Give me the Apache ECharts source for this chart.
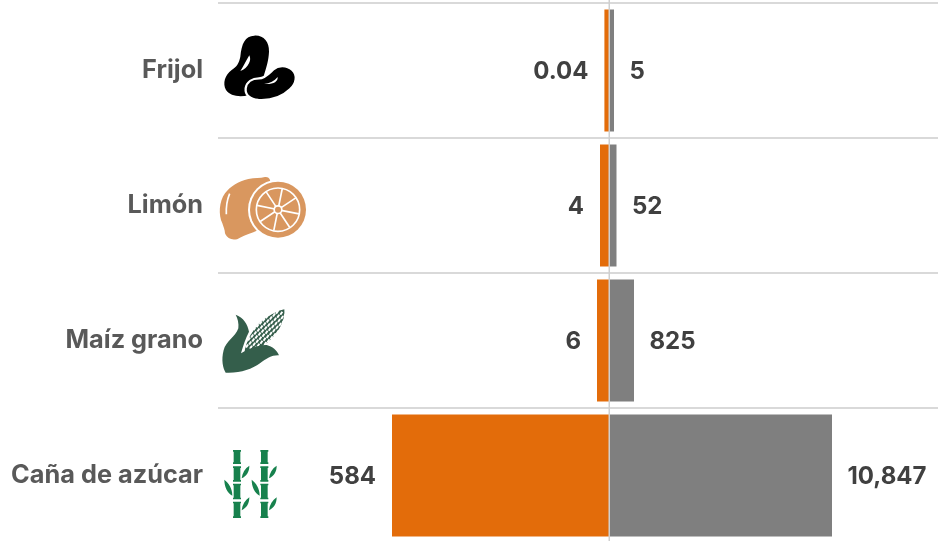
<!DOCTYPE html>
<html><head><meta charset="utf-8">
<style>html,body{margin:0;padding:0;background:#fff}#c{width:942px;height:541px}</style>
<script src="https://cdn.jsdelivr.net/npm/echarts@6/dist/echarts.min.js"></script>
</head><body><div id="c"></div>
<script>
const categories = ['Frijol', 'Limón', 'Maíz grano', 'Caña de azúcar'];
const leftLabels = ['0.04', '4', '6', '584'];
const rightLabels = ['5', '52', '825', '10,847'];
// Bar lengths as drawn in the picture (the original scale is not proportional to the printed labels)
const leftBarLengths = [4.6, 9, 12, 217];
const rightBarLengths = [5, 7.5, 25, 223];
const iconPosition = -349;

const FONT = 'Inter';
const LEAF = '#345E4B', CANE = '#17814D', LEMON = '#D9975F';

function canePaths(dx) {
  const segs = [[30,72],[79,125],[131,178],[185,234]];
  let d = '';
  segs.forEach(s => {
    d += `M${dx+54} ${s[0]}H${dx+78}V${s[0]+5}H${dx+76}V${s[1]-5}H${dx+78}V${s[1]}H${dx+54}V${s[1]-5}H${dx+56}V${s[0]+5}H${dx+54}Z`;
  });
  d += `M${dx+80} 115C${dx+82} 98 ${dx+90} 85 ${dx+103} 77C${dx+103} 95 ${dx+95} 108 ${dx+80} 115Z`;
  d += `M${dx+52} 167C${dx+36} 158 ${dx+28} 140 ${dx+28} 119C${dx+42} 130 ${dx+52} 145 ${dx+52} 167Z`;
  d += `M${dx+80} 211C${dx+82} 194 ${dx+90} 181 ${dx+103} 172C${dx+103} 190 ${dx+95} 204 ${dx+80} 211Z`;
  return d;
}
function cornDots() {
  let d = '';
  const ux = 0.72, uy = -0.69, vx = 0.69, vy = 0.72;
  const cx = 148, cy = 92;
  for (let u = -70; u <= 78; u += 13) {
    for (let v = -36; v <= 36; v += 11) {
      if ((u*u)/(80*80) + (v*v)/(34*34) > 1) continue;
      const off = (Math.round(v/11) % 2 === 0) ? 0 : 6;
      const x = cx + (u+off)*ux + v*vx, y = cy + (u+off)*uy + v*vy;
      d += `M${x-5} ${y+3}L${x+1} ${y-6}L${x+6} ${y-3}L${x} ${y+6}Z`;
    }
  }
  return d;
}
function spokes() {
  let d = '';
  for (let i = 0; i < 8; i++) {
    const a = i * Math.PI / 4 + 0.2;
    const c = Math.cos(a), s = Math.sin(a);
    d += `M${189+c*10} ${134+s*10}L${189+c*64} ${134+s*64}`;
  }
  return d;
}
const ICONS = [
  { o: [135, 151.5], parts: [
    { d: 'M118 47C145 45 163 65 162 95C161 120 155 140 145 172L100 226C72 232 45 228 33 210C22 190 30 165 50 150C65 140 72 130 76 110C80 70 90 48 118 47Z', fill: '#000' },
    { d: 'M92 205C95 185 112 175 132 175C150 175 162 160 175 148C190 135 215 135 232 150C248 165 245 190 225 208C200 232 165 242 130 240C105 238 90 225 92 205Z', fill: '#000', stroke: '#fff', lineWidth: 7 },
    { d: 'M103 106C107 115 106 122 102 130C97 140 88 150 76 153C84 142 92 125 103 106Z', fill: '#fff' },
    { d: 'M188 171C189 185 175 194 147 192C165 190 178 183 188 171Z', fill: '#fff' }
  ]},
  { o: [135, 121.5], parts: [
    { d: 'M22 175C10 150 12 110 30 85C45 65 70 48 100 42C120 38 135 40 150 36C162 34 168 45 165 55L190 130L130 195C110 205 90 210 75 218C60 228 38 225 30 205C30 195 25 185 22 175Z', fill: LEMON },
    { circle: [189, 134, 90], fill: '#fff' },
    { circle: [189, 134, 84], fill: LEMON },
    { circle: [189, 134, 65], stroke: '#fff', lineWidth: 5, fill: 'none' },
    { d: spokes(), stroke: '#fff', lineWidth: 5, fill: 'none' },
    { circle: [189, 134, 14], fill: '#fff' },
    { circle: [189, 134, 9], fill: LEMON },
    { d: 'M44 86C36 105 33 125 34 148', stroke: '#fff', lineWidth: 5, fill: 'none' }
  ]},
  { o: [135, 121.5], parts: [
    { d: 'M88 160C92 125 115 80 150 55C170 42 190 32 208 28C212 60 190 100 160 125C140 142 110 155 88 160Z', fill: LEAF },
    { d: cornDots(), fill: '#fff' },
    { d: 'M62 44C85 52 98 72 102 95C92 115 85 135 78 160C100 146 135 133 155 135C172 140 186 150 192 166C170 165 155 175 135 190C110 208 75 220 32 218C24 205 18 180 26 150C32 125 62 110 70 85C72 70 68 55 62 44Z', fill: LEAF }
  ]},
  { o: [135, 106.5], parts: [
    { d: canePaths(0), fill: CANE },
    { d: canePaths(82), fill: CANE }
  ]}
];

function renderIcon(params, api) {
  const c = api.coord([api.value(0), api.value(1)]);
  const icon = ICONS[params.dataIndex];
  const children = icon.parts.map(p => {
    const style = { fill: p.fill, stroke: p.stroke || null, lineWidth: p.lineWidth || 0 };
    if (p.circle) return { type: 'circle', shape: { cx: p.circle[0], cy: p.circle[1], r: p.circle[2] }, style };
    return { type: 'path', shape: { pathData: p.d }, style };
  });
  return {
    type: 'group', x: c[0], y: c[1], scaleX: 1/3, scaleY: 1/3,
    children: [{ type: 'group', x: -icon.o[0], y: -icon.o[1], children }]
  };
}

const valueLabel = {
  show: true, distance: 16, fontFamily: FONT, fontWeight: 700, fontSize: 24, color: '#404040'
};
const chart = echarts.init(document.getElementById('c'), null, { renderer: 'canvas' });
const option = {
  animation: false,
  backgroundColor: '#fff',
  grid: { left: 218, width: 720, top: 3, height: 540, containLabel: false, outerBoundsMode: 'none' },
  xAxis: { type: 'value', min: -391, max: 329, show: false },
  yAxis: {
    type: 'category', inverse: true, data: categories,
    axisLine: { show: false }, axisTick: { show: false },
    axisLabel: { margin: 15, fontFamily: FONT, fontWeight: 700, fontSize: 25.3, color: '#595959', padding: [2, 0, 0, 0] },
    splitLine: { show: true, lineStyle: { color: '#D9D9D9', width: 2 } }
  },
  series: [
    { name: 'Izquierda', type: 'bar', stack: 'a', barWidth: 122,
      itemStyle: { color: '#E36C0A' },
      data: leftBarLengths.map(v => -v),
      label: { ...valueLabel, position: 'left', offset: [0, 1], formatter: p => leftLabels[p.dataIndex] } },
    { name: 'Derecha', type: 'bar', stack: 'a', barWidth: 122,
      itemStyle: { color: '#7F7F7F' },
      data: rightBarLengths,
      label: { ...valueLabel, position: 'right', offset: [-0.5, 1], formatter: p => rightLabels[p.dataIndex] } },
    { name: 'Iconos', type: 'custom', renderItem: renderIcon, clip: false, silent: true,
      encode: { x: 0, y: 1 },
      data: categories.map((c, i) => [iconPosition, i]) }
  ]
};
chart.setOption(option);
const zero = chart.convertToPixel({ xAxisIndex: 0 }, 0);
chart.setOption({ graphic: [{ type: 'line', z: 100, shape: { x1: zero + 0.25, y1: 0, x2: zero + 0.25, y2: 541 }, style: { stroke: '#CFCFCF', lineWidth: 1.5 } }] });
</script></body></html>
